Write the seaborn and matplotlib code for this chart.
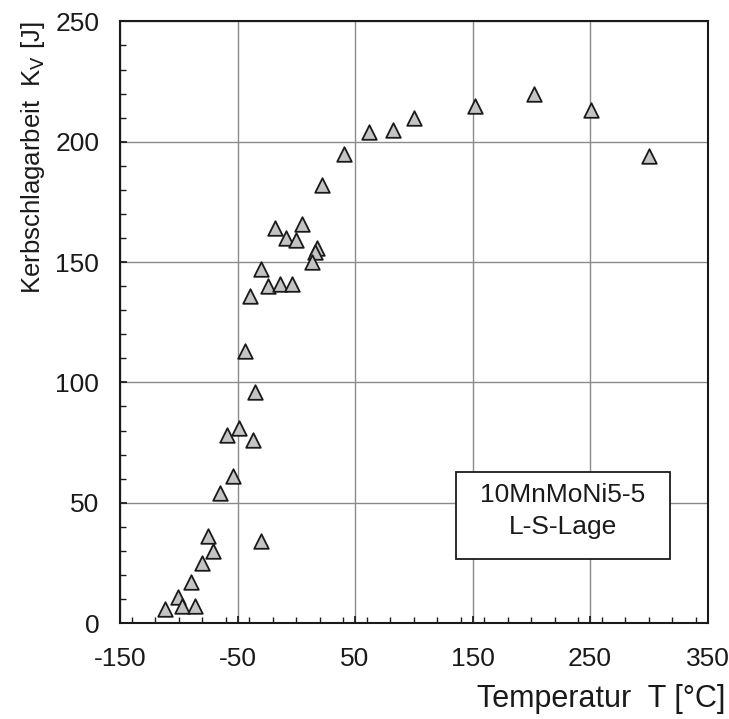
import numpy as np
import pandas as pd
import seaborn as sns
import matplotlib.pyplot as plt
from matplotlib.ticker import MultipleLocator
from matplotlib.patches import Rectangle

# ===============================
# Kerbschlagarbeit vs Temperatur
# ===============================

temperatur = [-112, -101, -97, -90, -86, -80, -75, -71, -65, -59, -54, -49,
              -37, -35, -30, -44, -39, -30, -24, -14, -4, -18, -9, 0,
              5, 18, 16, 13, 22, 41, 62, 82, 100, 152, 202, 251, 300]
kerbschlagarbeit = [6, 11, 7, 17, 7, 25, 36, 30, 54, 78, 61, 81,
                    76, 96, 34, 113, 136, 147, 140, 141, 141, 164, 160, 159,
                    166, 156, 154, 150, 182, 195, 204, 205, 210, 215, 220, 213, 194]

box_lines = ["10MnMoNi5-5", "L-S-Lage"]

df = pd.DataFrame({"T": temperatur, "KV": kerbschlagarbeit})

sns.set_theme(style="white")
plt.rcParams["font.family"] = ["Liberation Sans", "DejaVu Sans"]

fig = plt.figure(figsize=(7.29, 7.19), dpi=100)
ax = fig.add_axes([0.1646, 0.1335, 0.806, 0.8367])

sns.scatterplot(data=df, x="T", y="KV", marker="^", s=110, color="#c4c4c4",
                edgecolor="#1a1a1a", linewidth=1.3, ax=ax, zorder=3)

ax.set_xlim(-150, 350)
ax.set_ylim(0, 250)
ax.set_xticks(np.arange(-150, 351, 100))
ax.set_yticks(np.arange(0, 251, 50))
ax.xaxis.set_minor_locator(MultipleLocator(20))
ax.yaxis.set_minor_locator(MultipleLocator(10))
ax.tick_params(axis="both", which="both", direction="in", labelsize=19,
               color="#1a1a1a", labelcolor="#1a1a1a", bottom=True, left=True)
ax.tick_params(axis="x", which="major", length=5, pad=17)
ax.tick_params(axis="y", which="major", length=5, pad=15)
ax.tick_params(which="minor", length=4)
ax.set_xticklabels([str(v) for v in np.arange(-150, 351, 100)])

ax.grid(True, which="major", color="#8a8a8a", linewidth=1.0)
for sp in ax.spines.values():
    sp.set_color("#1a1a1a")
    sp.set_linewidth(1.5)

ax.set_xlabel("Temperatur  T [°C]", fontsize=22, color="#1a1a1a")
ax.xaxis.set_label_coords(1.030, -0.101)
ax.xaxis.label.set_ha("right")
ax.xaxis.label.set_va("top")
ax.set_ylabel("Kerbschlagarbeit  K$_\\mathrm{V}$ [J]", fontsize=18.5,
              color="#1a1a1a", loc="top")
ax.yaxis.set_label_coords(-0.124, 1.0)

# Legendenkasten
ax.add_patch(Rectangle((0.572, 0.106), 0.364, 0.145, transform=ax.transAxes,
                       facecolor="white", edgecolor="#1a1a1a", linewidth=1.3,
                       zorder=4))
ax.text(0.754, 0.213, box_lines[0], transform=ax.transAxes, fontsize=19,
        ha="center", va="center", color="#1a1a1a", zorder=5)
ax.text(0.754, 0.159, box_lines[1], transform=ax.transAxes, fontsize=19,
        ha="center", va="center", color="#1a1a1a", zorder=5)

fig.savefig("out.png", dpi=100, facecolor="white")
